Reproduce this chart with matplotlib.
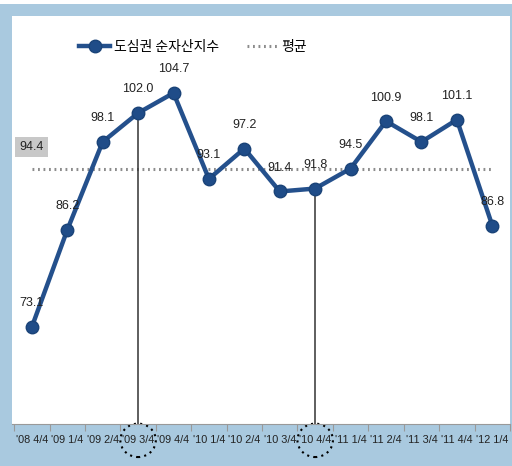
import matplotlib.pyplot as plt
from matplotlib.patches import Ellipse, Rectangle
from matplotlib.transforms import blended_transform_factory

quarters = ["'08 4/4", "'09 1/4", "'09 2/4", "'09 3/4", "'09 4/4", "'10 1/4", "'10 2/4",
            "'10 3/4", "'10 4/4", "'11 1/4", "'11 2/4", "'11 3/4", "'11 4/4", "'12 1/4"]
index_vals = [73.1, 86.2, 98.1, 102.0, 104.7, 93.1, 97.2, 91.4, 91.8, 94.5, 100.9, 98.1, 101.1, 86.8]
avg_val = 94.4
marked = [3, 8]

narrow = ["Liberation Sans Narrow", "Liberation Sans", "DejaVu Sans"]
kor = ["Noto Sans CJK KR", "DejaVu Sans"]
blue = "#24508C"

fig = plt.figure(figsize=(5.12, 4.66), dpi=100, facecolor="#A9C9DF")
# thin white strip along the top edge
fig.patches.append(Rectangle((0, 1 - 4 / 466), 1, 4 / 466, transform=fig.transFigure,
                             fc="white", ec="none"))
ax = fig.add_axes([12 / 512, 42 / 466, 498 / 512, 408 / 466])
ax.set_facecolor("white")

x = list(range(len(quarters)))
ax.plot([x[0], x[-1]], [avg_val, avg_val], color="#8C8C8C", lw=2.2, ls=(0, (0.6, 1.2)),
        label="평균", zorder=2)
ax.plot(x, index_vals, color=blue, lw=3.2, marker="o", ms=9, mfc="#1F4C88",
        mec="#1A4378", label="도심권 순자산지수", zorder=4)

for i in marked:
    ax.plot([x[i], x[i]], [60, index_vals[i]], color="#333333", lw=1.1, zorder=3)

for xi, v in zip(x, index_vals):
    ax.annotate(f"{v:.1f}", (xi, v), xytext=(0, 17), textcoords="offset points",
                ha="center", va="center", fontsize=9, family=narrow, color="#222222",
                zorder=5)

ax.text(0, 97.4, f"{avg_val}", ha="center", va="center", fontsize=9, family=narrow,
        color="#222222", bbox=dict(boxstyle="square,pad=0.35", fc="#C8C8C8", ec="none"))

ax.set_xlim(-0.56, 13.46)
ax.set_ylim(60, 115.1)
ax.set_xticks([i + 0.5 for i in range(-1, len(quarters))])
ax.set_xticklabels([])
ax.set_xticks(x, minor=True)
ax.set_xticklabels(quarters, minor=True, fontsize=7.8, family=narrow, color="#222222")
ax.tick_params(axis="x", which="major", length=5, color="#999999", direction="out")
ax.tick_params(axis="x", which="minor", length=0, pad=8)
ax.set_yticks([])
for s in ["top", "left", "right"]:
    ax.spines[s].set_visible(False)
ax.spines["bottom"].set_color("#999999")

tr = blended_transform_factory(ax.transData, ax.transAxes)
for i in marked:
    ax.add_patch(Ellipse((x[i], -0.04), 1.0, 0.082, transform=tr, fill=False,
                         ls=(0, (1, 2)), lw=1.5, ec="black", clip_on=False))

h, l = ax.get_legend_handles_labels()
ax.legend(h[::-1], l[::-1], ncol=2, loc="center left", bbox_to_anchor=(0.11, 0.925),
          frameon=False, prop={"family": kor, "size": 10}, handlelength=2.2,
          columnspacing=2.0, handletextpad=0.3)

fig.savefig("out.png", dpi=100, facecolor=fig.get_facecolor())
